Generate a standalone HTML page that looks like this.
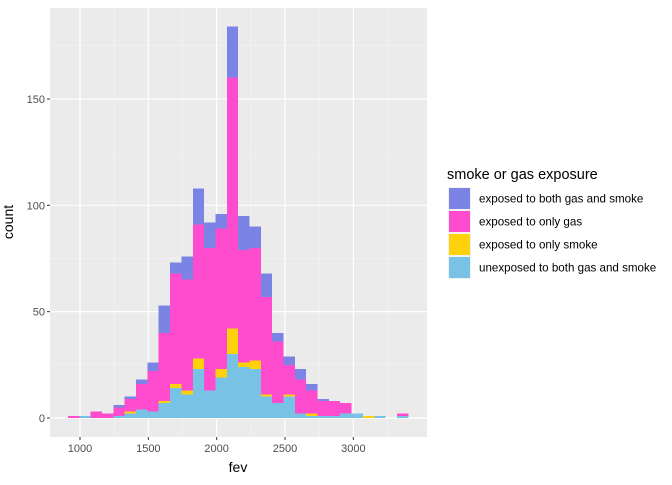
<!DOCTYPE html>
<html><head><meta charset="utf-8"><style>
body{margin:0;background:#fff;font-family:"Liberation Sans",Arial,sans-serif;}
</style></head><body>
<svg id="chart" width="672" height="480" xmlns="http://www.w3.org/2000/svg">
<rect x="50" y="8" width="377" height="429" fill="#EBEBEB"/>
<g id="grid"></g>
<g id="bars" shape-rendering="crispEdges"></g>
<g id="axes"></g>
<text x="13" y="222" font-size="14" text-anchor="middle" transform="rotate(-90 13 222)" fill="#000">count</text>
<text x="238" y="472" font-size="14" text-anchor="middle" fill="#000">fev</text>
<g>
<text x="447" y="179" font-size="14.5" fill="#000">smoke or gas exposure</text>
<g id="legend"></g>
</g>
</svg>
<script>
const binStart = 912;
const binWidth = 83;
const unexposed = [0,1,0,0,1,2,4,3,7,14,11,23,13,19,30,24,23,10,7,10,2,1,1,1,2,2,0,1,0,1];
const onlySmoke = [0,0,0,0,0,1,0,0,1,2,2,5,0,4,12,2,4,1,0,1,0,1,0,0,0,0,1,0,0,0];
const onlyGas   = [1,0,3,2,4,6,12,19,32,52,52,63,67,66,118,53,53,46,29,14,16,11,7,7,5,0,0,0,0,1];
const bothExp   = [0,0,0,0,1,1,2,4,13,5,11,17,12,7,24,16,10,11,4,4,5,3,1,0,0,0,0,0,0,0];
const yTicks = [0,50,100,150];
const xTicks = [1000,1500,2000,2500,3000];
const seriesNames = ["exposed to both gas and smoke","exposed to only gas","exposed to only smoke","unexposed to both gas and smoke"];
const colors = {both:"#7B84E4",gas:"#FF4BCD",smoke:"#FFD10A",unexp:"#78C3E5"};
const NS="http://www.w3.org/2000/svg";
const xs = v => 80 + (v-1000)*0.13667;
const ys = v => 418 - v*2.127;
function mk(tag, attrs, parent){const e=document.createElementNS(NS,tag);for(const k in attrs)e.setAttribute(k,attrs[k]);parent.appendChild(e);return e;}
const grid=document.getElementById('grid'), bars=document.getElementById('bars'), axes=document.getElementById('axes'), legend=document.getElementById('legend');
for(let v=25; v<=175; v+=50){const l=mk('line',{x1:50,x2:427,y1:ys(v),y2:ys(v),stroke:'#F5F5F5','stroke-width':0.6},grid);

}
for(let v=1250; v<=3250; v+=500){const l=mk('line',{x1:xs(v),x2:xs(v),y1:8,y2:437,stroke:'#F5F5F5','stroke-width':0.6},grid);

}
yTicks.forEach(v=>{const l=mk('line',{x1:50,x2:427,y1:ys(v),y2:ys(v),stroke:'#fff','stroke-width':1.2},grid);


const t=mk('text',{x:45,y:ys(v)+4,'font-size':11,'text-anchor':'end',fill:'#4D4D4D'},axes);t.textContent=v;


const tk=mk('line',{x1:47,x2:50,y1:ys(v),y2:ys(v),stroke:'#333'},axes);

});
xTicks.forEach(v=>{const l=mk('line',{x1:xs(v),x2:xs(v),y1:8,y2:437,stroke:'#fff','stroke-width':1.2},grid);


const t=mk('text',{x:xs(v),y:452,'font-size':11,'text-anchor':'middle',fill:'#4D4D4D'},axes);t.textContent=v;


const tk=mk('line',{x1:xs(v),x2:xs(v),y1:437,y2:440,stroke:'#333'},axes);

});
const layers=[[unexposed,colors.unexp,'bar-unexposed'],[onlySmoke,colors.smoke,'bar-only-smoke'],[onlyGas,colors.gas,'bar-only-gas'],[bothExp,colors.both,'bar-both']];
for(let i=0;i<unexposed.length;i++){
  let base=0;
  const x0=xs(binStart+i*binWidth), x1=xs(binStart+(i+1)*binWidth);
  layers.forEach(([arr,col,name])=>{
    const v=arr[i]; if(v>0){
      const r=mk('rect',{x:x0,y:ys(base+v),width:x1-x0,height:ys(base)-ys(base+v),fill:col},bars);
      
      
    }
    base+=v;
  });
}
const lcols=[colors.both,colors.gas,colors.smoke,colors.unexp];
seriesNames.forEach((n,i)=>{
  const y=187+i*23;
  const bg=mk('rect',{x:448,y:y,width:23,height:23,fill:'#F2F2F2'},legend);
  
  
  const k=mk('rect',{x:449,y:y+1,width:21,height:21,fill:lcols[i]},legend);
  
  
  const t=mk('text',{x:479,y:y+15.5,'font-size':11.6,fill:'#000'},legend);t.textContent=n;
  
  
});
</script>
</body></html>
